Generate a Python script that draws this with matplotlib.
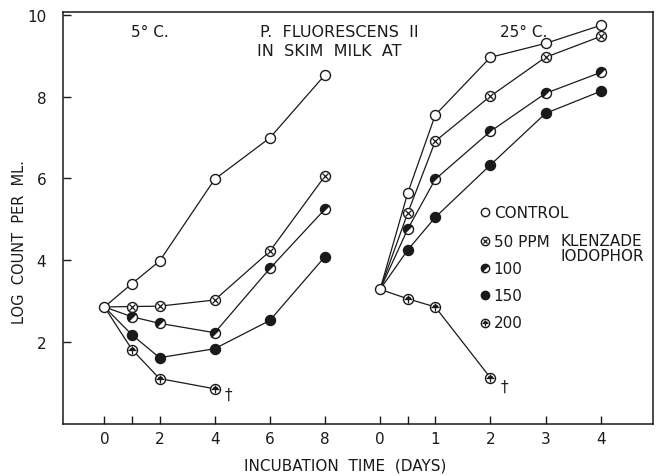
import matplotlib
matplotlib.use("Agg")
import matplotlib.pyplot as plt
from matplotlib.markers import MarkerStyle
from matplotlib.transforms import Affine2D

plt.rcParams['font.family'] = ['DejaVu Sans']

# ---- data ----
days_5 = [0, 1, 2, 4, 6, 8]
control_5 = [2.86, 3.43, 3.98, 5.98, 6.99, 8.53]
ppm50_5 = [2.86, 2.87, 2.88, 3.03, 4.22, 6.06]
ppm100_5 = [2.86, 2.62, 2.46, 2.23, 3.80, 5.25]
ppm150_5 = [2.86, 2.18, 1.62, 1.84, 2.53, 4.09]
days_5_200 = [0, 1, 2, 4]
ppm200_5 = [2.86, 1.82, 1.11, 0.86]

days_25 = [0, 0.5, 1, 2, 3, 4]
control_25 = [3.29, 5.64, 7.55, 8.96, 9.30, 9.74]
ppm50_25 = [3.29, 5.15, 6.91, 8.01, 8.96, 9.47]
ppm100_25 = [3.29, 4.76, 5.98, 7.15, 8.08, 8.59]
ppm150_25 = [3.29, 4.25, 5.05, 6.33, 7.59, 8.13]
days_25_200 = [0, 0.5, 1, 2]
ppm200_25 = [3.29, 3.06, 2.86, 1.13]

ticks_5 = [0, 1, 2, 4, 6, 8]
ticklabels_5 = ['0', '', '2', '4', '6', '8']
ticks_25 = [0, 0.5, 1, 2, 3, 4]
ticklabels_25 = ['0', '', '1', '2', '3', '4']
yticks = [2, 4, 6, 8, 10]

legend_labels = ['CONTROL', '50 PPM', '100', '150', '200']

# right panel (25 C) is drawn on the same axis, shifted and twice as wide per day
OFFSET = 10
SCALE = 2
def x25(d):
    return [OFFSET + SCALE * v for v in d]

fig = plt.figure(figsize=(6.6, 4.77), dpi=100)
ax = fig.add_axes([0.0955, 0.109, 0.894, 0.864])
ax.set_xlim(-1.5, 19.9)
ax.set_ylim(0, 10.07)

K = '#1a1a1a'
MS = 7.2
half = MarkerStyle('o', fillstyle='left', transform=Affine2D().rotate_deg(-45))

def marker_pts(xs, ys, kind, ms=MS):
    if kind == 'control':
        ax.plot(xs, ys, 'o', ms=ms, mfc='white', mec=K, mew=1.0, ls='none', zorder=3)
    elif kind == '50':
        ax.plot(xs, ys, 'o', ms=ms, mfc='white', mec=K, mew=1.0, ls='none', zorder=3)
        ax.plot(xs, ys, 'x', ms=ms * 0.55, mec=K, mew=0.9, ls='none', zorder=4)
    elif kind == '100':
        ax.plot(xs, ys, ls='none', marker=half, ms=ms, mfc=K, mfcalt='white', mec=K, mew=1.0, zorder=3)
    elif kind == '150':
        ax.plot(xs, ys, 'o', ms=ms, mfc=K, mec=K, mew=1.0, ls='none', zorder=3)
    elif kind == '200':
        ax.plot(xs, ys, 'o', ms=ms, mfc='white', mec=K, mew=1.0, ls='none', zorder=3)
        ax.plot(xs, ys, ls='none', marker=MarkerStyle('o', fillstyle='top'), ms=ms * 0.6,
                mfc=K, mec='none', zorder=4)
        ax.plot(xs, ys, '+', ms=ms * 0.75, mec=K, mew=0.9, ls='none', zorder=5)

def draw(x, y, kind):
    ax.plot(x, y, color=K, lw=0.9, zorder=2)
    marker_pts(x[1:], y[1:], kind)

# 5 C
draw(days_5, control_5, 'control')
draw(days_5, ppm50_5, '50')
draw(days_5, ppm100_5, '100')
draw(days_5, ppm150_5, '150')
draw(days_5_200, ppm200_5, '200')
marker_pts([days_5[0]], [control_5[0]], 'control')

# 25 C
draw(x25(days_25), control_25, 'control')
draw(x25(days_25), ppm50_25, '50')
draw(x25(days_25), ppm100_25, '100')
draw(x25(days_25), ppm150_25, '150')
draw(x25(days_25_200), ppm200_25, '200')
marker_pts(x25([days_25[0]]), [control_25[0]], 'control')

# daggers
ax.text(4.48, 0.72, '†', fontsize=11, ha='center', va='center', color=K)
ax.text(14.5, 0.92, '†', fontsize=11, ha='center', va='center', color=K)

# ticks
ax.set_xticks(ticks_5 + x25(ticks_25))
ax.set_xticklabels(ticklabels_5 + ticklabels_25)
ax.set_yticks(yticks)
ax.set_yticklabels([str(v) for v in yticks])
ax.tick_params(direction='in', length=6, width=1.0, labelsize=11, colors=K)
ax.tick_params(axis='x', pad=5)
ax.tick_params(axis='y', pad=12)
for s in ax.spines.values():
    s.set_linewidth(1.1)
    s.set_color(K)

# annotations
ax.text(1.64, 9.58, '5° C.', fontsize=11, ha='center', va='center', color=K)
ax.text(8.53, 9.6, 'P.  FLUORESCENS  II', fontsize=11.5, ha='center', va='center', color=K)
ax.text(8.17, 9.12, 'IN  SKIM  MILK  AT', fontsize=11.5, ha='center', va='center', color=K)
ax.text(15.2, 9.6, '25° C.', fontsize=11, ha='center', va='center', color=K)

# legend (hand-built)
leg_y = [5.17, 4.46, 3.80, 3.14, 2.48]
kinds = ['control', '50', '100', '150', '200']
for lab, yy, kd in zip(legend_labels, leg_y, kinds):
    marker_pts([13.79], [yy], kd, ms=6)
    ax.text(14.12, yy, lab, fontsize=11, ha='left', va='center', color=K)
ax.text(16.55, 4.66, 'KLENZADE\nIODOPHOR', fontsize=11, ha='left', va='top',
        linespacing=0.95, color=K)

fig.text(345 / 660, 1 - 466 / 477, 'INCUBATION  TIME  (DAYS)', fontsize=11,
         ha='center', va='center', color=K)
fig.text(20 / 660, 1 - 242 / 477, 'LOG  COUNT  PER  ML.', fontsize=10.5, rotation=90,
         ha='center', va='center', color=K)

fig.savefig('out.png', dpi=100)
